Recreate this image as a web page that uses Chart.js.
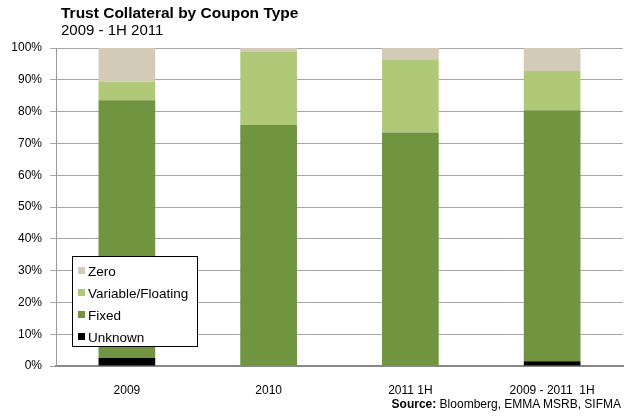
<!DOCTYPE html>
<html>
<head>
<meta charset="utf-8">
<script src="https://cdn.jsdelivr.net/npm/chart.js@4"></script>
<style>
  body { margin: 0; background: #fff; font-family: "Liberation Sans", Arial, sans-serif; }
  .wrap { position: relative; width: 625px; height: 420px; }
  .title { position: absolute; left: 61px; top: 5px; font-size: 15.5px; line-height: 15.5px; font-weight: bold; color: #000; white-space: nowrap; }
  .subtitle { position: absolute; left: 61px; top: 22px; font-size: 15px; line-height: 15px; color: #000; white-space: nowrap; }
  .source { position: absolute; right: 4px; top: 397px; font-size: 12px; color: #000; }
</style>
</head>
<body>
<div class="wrap">
  <canvas id="grafico" width="625" height="420"></canvas>
  <div class="title">Trust Collateral by Coupon Type</div>
  <div class="subtitle">2009 - 1H 2011</div>
  <div class="source"><b>Source:</b> Bloomberg, EMMA MSRB, SIFMA</div>
</div>
<script>
"use strict";
// Dados
const categorias = ["2009", "2010", "2011 1H", "2009 - 2011  1H"];
const unknown = [2.5, 0, 0, 1.5];
const fixed = [81.1, 75.8, 73.4, 78.9];
const variable = [5.8, 23.1, 22.8, 12.4];
const zero = [10.6, 1.1, 3.8, 7.2];

const fonte = "Liberation Sans";

// Legenda dentro do gráfico
const legendaBox = {
  id: "legendaBox",
  afterDraw(chart) {
    const ctx = chart.ctx;
    const x = 72, y = 256, w = 125, h = 90;
    ctx.save();
    ctx.fillStyle = "#fff";
    ctx.fillRect(x, y, w, h);
    ctx.strokeStyle = "#000";
    ctx.lineWidth = 1;
    ctx.strokeRect(x + 0.5, y + 0.5, w, h);
    ctx.font = "13.5px " + fonte;
    ctx.textBaseline = "middle";
    const itens = chart.data.datasets.slice().reverse();
    itens.forEach((ds, i) => {
      const cy = y + 16 + i * 22;
      ctx.fillStyle = ds.backgroundColor;
      ctx.fillRect(x + 6, cy - 5, 7, 7);
      ctx.fillStyle = "#000";
      ctx.fillText(ds.label, x + 16, cy);
    });
    ctx.restore();
  }
};

new Chart(document.getElementById("grafico"), {
  type: "bar",
  data: {
    labels: categorias,
    datasets: [
      { label: "Unknown", data: unknown, backgroundColor: "#000000" },
      { label: "Fixed", data: fixed, backgroundColor: "#70943f" },
      { label: "Variable/Floating", data: variable, backgroundColor: "#b0c978" },
      { label: "Zero", data: zero, backgroundColor: "#d4cab8" },
    ],
  },
  options: {
    responsive: false,
    animation: false,
    layout: { padding: { top: 48, right: 2, left: 0, bottom: 0 } },
    datasets: { bar: { categoryPercentage: 1, barPercentage: 0.4 } },
    plugins: { legend: { display: false }, tooltip: { enabled: false } },
    scales: {
      x: {
        stacked: true,
        grid: { display: false },
        border: { display: true, color: "#888", width: 2 },
        ticks: { color: "#000", font: { family: fonte, size: 12 }, padding: 9, maxRotation: 0 },
        afterFit: (s) => { s.height = 54; },
      },
      y: {
        stacked: true,
        min: 0,
        max: 100,
        grid: { color: "#a6a6a6", tickLength: 6 },
        border: { display: true, color: "#999", width: 1 },
        ticks: {
          stepSize: 10,
          color: "#000",
          padding: 8,
          font: { family: fonte, size: 12 },
          callback: (v) => v + "%",
        },
        afterFit: (s) => { s.width = 56; },
      },
    },
  },
  plugins: [legendaBox],
});
</script>
</body>
</html>
